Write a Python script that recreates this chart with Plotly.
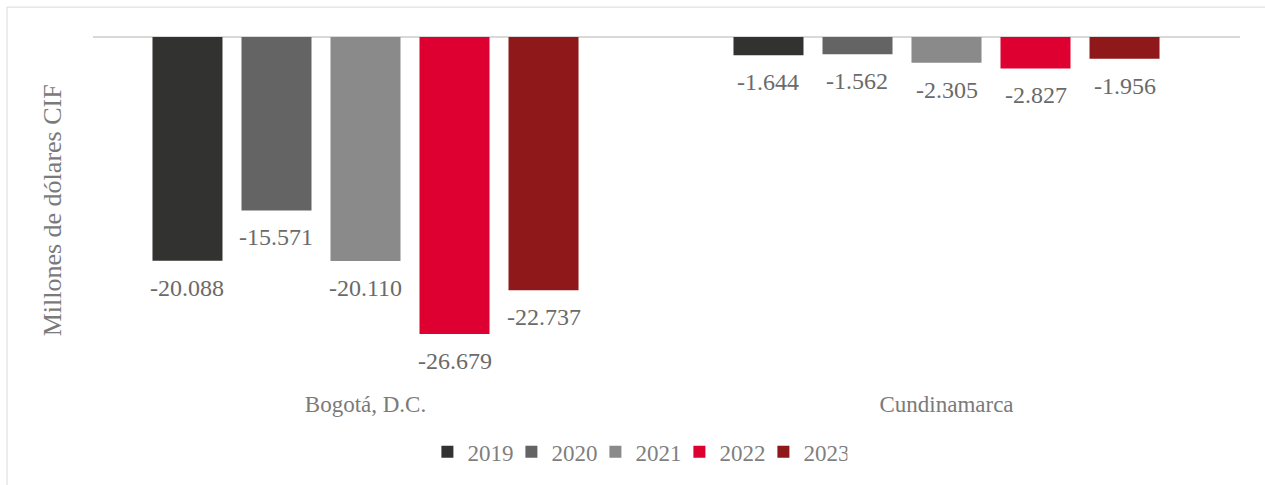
import plotly.graph_objects as go

# ==========================================================
# DATA
# ==========================================================

departments = ["Bogotá, D.C.", "Cundinamarca"]
years = ["2019", "2020", "2021", "2022", "2023"]

values_2019 = [-20.088, -1.644]
values_2020 = [-15.571, -1.562]
values_2021 = [-20.110, -2.305]
values_2022 = [-26.679, -2.827]
values_2023 = [-22.737, -1.956]

series = [values_2019, values_2020, values_2021, values_2022, values_2023]
colors = ["#323230", "#646464", "#8a8a8a", "#df0032", "#8f181a"]

# ==========================================================
# GROUPED BAR CHART
# ==========================================================

bar_width = 0.1205
step = 0.1532
serif = "Liberation Serif, Times New Roman, serif"
label_font = dict(family=serif, size=24, color="#6a6a6a")

fig = go.Figure()
annotations = []

for j, (year, vals, color) in enumerate(zip(years, series, colors)):
    xs = [i + (j - 2) * step for i in range(len(departments))]
    fig.add_trace(
        go.Bar(
            x=xs,
            y=vals,
            # trailing nbsp keeps the last legend entry from being clipped
            name=year + "\u00a0\u00a0",
            width=bar_width,
            marker=dict(color=color, line=dict(width=0)),
        )
    )
    for x, v in zip(xs, vals):
        annotations.append(
            dict(
                x=x, y=v, xref="x", yref="y",
                text=f"{v:.3f}",
                showarrow=False,
                yshift=-27,
                font=label_font,
            )
        )

annotations.append(
    dict(
        x=-0.0335, y=0.495, xref="paper", yref="paper",
        text="Millones de dólares CIF",
        textangle=-90,
        showarrow=False,
        font=dict(family=serif, size=26, color="#7a7a7a"),
    )
)

fig.update_layout(
    template="plotly_white",
    width=1265,
    height=485,
    margin=dict(l=75, r=28, t=30, b=95),
    plot_bgcolor="white",
    paper_bgcolor="white",
    barmode="overlay",
    showlegend=True,
    legend=dict(
        orientation="h",
        x=0.484, xanchor="center",
        y=-0.178, yanchor="middle",
        font=dict(family=serif, size=23, color="#7f7f7f"),
        entrywidth=39,
        entrywidthmode="pixels",
        traceorder="normal",
        itemwidth=30,
    ),
    annotations=annotations,
    shapes=[
        dict(
            type="line", xref="paper", yref="y",
            x0=0.0155, x1=1.0026, y0=0, y1=0,
            line=dict(color="#d9d9d9", width=2),
            layer="below",
        ),
        dict(
            type="rect", xref="paper", yref="paper",
            x0=-0.0585, x1=1.04, y0=-0.3, y1=1.0639,
            line=dict(color="#d9d9d9", width=1),
            layer="below",
        ),
    ],
)

fig.update_xaxes(
    range=[-0.5, 1.5],
    tickvals=list(range(len(departments))),
    ticktext=departments,
    showgrid=False,
    zeroline=False,
    showline=False,
    ticks="",
    tickfont=dict(family=serif, size=23, color="#7a7a7a"),
)

fig.update_yaxes(
    range=[-31.52, 0.625],
    showgrid=False,
    zeroline=False,
    showline=False,
    showticklabels=False,
)

fig.write_html(
    "out.html",
    config={"displayModeBar": False},
    post_script="document.body.style.margin='0';",
)
